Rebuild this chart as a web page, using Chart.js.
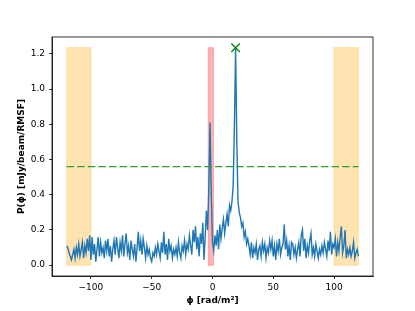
<!DOCTYPE html>
<html>
<head>
<meta charset="utf-8">
<script src="https://cdn.jsdelivr.net/npm/chart.js@4/dist/chart.umd.min.js"></script>
<style>
html,body{margin:0;padding:0;background:#fff;}
#wrap{width:415px;height:311px;}
</style>
</head>
<body>
<div id="wrap"><canvas id="c" width="415" height="311"></canvas></div>
<script>
// Faraday depth grid (rad/m^2)
const phiStart = -120;
const phiStep = 1;
// Polarised intensity P(phi) [mJy/beam/RMSF]
const amplitude = [
  0.11, 0.10, 0.07, 0.05, 0.03, 0.06, 0.09, 0.04, 0.10, 0.06,
  0.12, 0.05, 0.09, 0.13, 0.04, 0.11, 0.07, 0.15, 0.08, 0.17,
  0.03, 0.16, 0.06, 0.12, 0.02, 0.09, 0.16, 0.05, 0.13, 0.07,
  0.10, 0.04, 0.14, 0.08, 0.15, 0.05, 0.11, 0.02, 0.09, 0.14,
  0.06, 0.16, 0.10, 0.04, 0.13, 0.08, 0.17, 0.05, 0.12, 0.18,
  0.07, 0.11, 0.03, 0.14, 0.09, 0.05, 0.12, 0.02, 0.10, 0.19,
  0.08, 0.14, 0.06, 0.15, 0.10, 0.04, 0.11, 0.06, 0.09, 0.04,
  0.02, 0.07, 0.05, 0.10, 0.06, 0.12, 0.08, 0.04, 0.13, 0.07,
  0.19, 0.06, 0.12, 0.03, 0.15, 0.08, 0.11, 0.04, 0.09, 0.06,
  0.10, 0.05, 0.13, 0.07, 0.04, 0.11, 0.08, 0.14, 0.06, 0.12,
  0.09, 0.17, 0.11, 0.06, 0.20, 0.13, 0.22, 0.09, 0.16, 0.05,
  0.18, 0.12, 0.24, 0.03, 0.16, 0.31, 0.20, 0.45, 0.81, 0.40,
  0.13, 0.08, 0.17, 0.11, 0.20, 0.09, 0.23, 0.15, 0.21, 0.26,
  0.18, 0.24, 0.29, 0.22, 0.34, 0.31, 0.36, 0.45, 0.78, 1.235,
  0.70, 0.36, 0.30, 0.27, 0.22, 0.24, 0.16, 0.19, 0.12, 0.15,
  0.11, 0.06, 0.13, 0.04, 0.10, 0.07, 0.12, 0.03, 0.09, 0.11,
  0.05, 0.13, 0.08, 0.12, 0.04, 0.10, 0.07, 0.14, 0.09, 0.14,
  0.05, 0.11, 0.03, 0.12, 0.08, 0.15, 0.06, 0.10, 0.12, 0.23,
  0.09, 0.14, 0.05, 0.11, 0.03, 0.13, 0.12, 0.06, 0.10, 0.04,
  0.09, 0.13, 0.05, 0.17, 0.20, 0.08, 0.15, 0.04, 0.11, 0.07,
  0.14, 0.18, 0.06, 0.10, 0.05, 0.12, 0.08, 0.04, 0.09, 0.06,
  0.11, 0.07, 0.13, 0.09, 0.05, 0.14, 0.08, 0.19, 0.06, 0.12,
  0.10, 0.15, 0.05, 0.13, 0.08, 0.16, 0.22, 0.07, 0.11, 0.20,
  0.04, 0.09, 0.06, 0.10, 0.05, 0.08, 0.13, 0.04, 0.07, 0.09,
  0.05
];
// Excluded edge ranges (orange) and the instrumental-leakage range (red)
const edgeRanges = [[-120, -100], [100, 120]];
const leakRange = [-3.5, 0.8];
const spanTop = 1.235;
// Detection threshold and peak
const threshold = 0.56;
const thresholdRange = [-120, 120];
const peakPhi = 19;
const peakAmp = 1.235;
// Axis ticks
const xTicks = [-100, -50, 0, 50, 100];
const yTicks = [0.0, 0.2, 0.4, 0.6, 0.8, 1.0, 1.2];
const xRange = [-132, 132];
const yRange = [-0.0617, 1.296];

const ORANGE = 'rgba(255,165,0,0.3)';
const RED = 'rgba(255,0,0,0.3)';

const spectrum = amplitude.map((v, i) => ({x: phiStart + i * phiStep, y: v}));
function spanTopLine(a, b, top) {
  return [{x: a, y: top}, {x: b, y: top}];
}
const minus = v => String(v).replace('-', '\u2212');

// outlines of the shaded spans (through the scales) and the axes frame
const spanEdges = {
  id: 'spanEdges',
  beforeDatasetsDraw(chart) {
    const {ctx, scales: {x, y}} = chart;
    const spans = edgeRanges.map(r => [r, ORANGE]).concat([[leakRange, RED]]);
    ctx.save();
    ctx.lineWidth = 1;
    spans.forEach(([r, c]) => {
      const x0 = x.getPixelForValue(r[0]), x1 = x.getPixelForValue(r[1]);
      const y0 = y.getPixelForValue(0), y1 = y.getPixelForValue(spanTop);
      ctx.strokeStyle = c;
      ctx.strokeRect(x0, y1, x1 - x0, y0 - y1);
    });
    ctx.restore();
  }
};
const frame = {
  id: 'frame',
  afterDatasetsDraw(chart) {
    const {ctx, chartArea: a} = chart;
    ctx.save();
    ctx.strokeStyle = '#000';
    ctx.lineWidth = 0.8;
    ctx.strokeRect(a.left, a.top, a.right - a.left, a.bottom - a.top);
    ctx.restore();
  }
};

const datasets = [];
edgeRanges.forEach(r => datasets.push({
  type: 'line',
  data: spanTopLine(r[0], r[1], spanTop), fill: 'origin',
  backgroundColor: ORANGE, borderColor: 'rgba(0,0,0,0)',
  borderWidth: 0, pointRadius: 0, tension: 0, order: 4
}));
datasets.push({
  type: 'line',
  data: spanTopLine(leakRange[0], leakRange[1], spanTop), fill: 'origin',
  backgroundColor: RED, borderColor: 'rgba(0,0,0,0)',
  borderWidth: 0, pointRadius: 0, tension: 0, order: 4
});
datasets.push({
  type: 'line',
  data: spectrum, borderColor: '#1f77b4', borderWidth: 1.4,
  pointRadius: 0, tension: 0, fill: false, order: 3
});
datasets.push({
  type: 'line',
  data: [{x: thresholdRange[0], y: threshold}, {x: thresholdRange[1], y: threshold}],
  borderColor: '#2ca02c', borderWidth: 1.35, borderDash: [7.4, 3.2],
  pointRadius: 0, fill: false, order: 2
});
datasets.push({
  type: 'scatter',
  data: [{x: peakPhi, y: peakAmp}], showLine: false, pointStyle: 'crossRot',
  pointRadius: 6, borderColor: 'green', borderWidth: 1.3, backgroundColor: 'green', order: 1
});

new Chart(document.getElementById('c'), {
  type: 'scatter',
  data: {datasets},
  options: {
    responsive: false,
    animation: false,
    devicePixelRatio: 1,
    layout: {padding: {left: 0, right: 42, top: 37, bottom: 0}},
    plugins: {legend: {display: false}, tooltip: {enabled: false}},
    scales: {
      x: {
        type: 'linear', min: xRange[0], max: xRange[1],
        afterBuildTicks: s => { s.ticks = xTicks.map(v => ({value: v})); },
        afterFit: s => { s.height = 35; },
        grid: {display: true, drawOnChartArea: false, drawTicks: true, tickLength: 3, color: '#000', lineWidth: 0.8},
        border: {display: true, color: '#000', width: 0.8},
        ticks: {color: '#000', padding: 3, maxRotation: 0, font: {family: 'DejaVu Sans', size: 9}, callback: v => minus(v)},
        title: {display: true, text: 'ϕ [rad/m²]', color: '#000', padding: {top: 0, bottom: 5}, font: {family: 'DejaVu Sans', size: 9, weight: 'bold'}}
      },
      y: {
        type: 'linear', min: yRange[0], max: yRange[1],
        afterBuildTicks: s => { s.ticks = yTicks.map(v => ({value: v})); },
        afterFit: s => { s.width = 52; },
        grid: {display: true, drawOnChartArea: false, drawTicks: true, tickLength: 3, color: '#000', lineWidth: 0.8},
        border: {display: true, color: '#000', width: 0.8},
        ticks: {color: '#000', padding: 4, font: {family: 'DejaVu Sans', size: 9}, callback: v => v.toFixed(1)},
        title: {display: true, text: 'P(ϕ) [mJy/beam/RMSF]', color: '#000', padding: {top: 16, bottom: 0}, font: {family: 'DejaVu Sans', size: 9, weight: 'bold'}}
      }
    }
  },
  plugins: [spanEdges, frame]
});
</script>
</body>
</html>
